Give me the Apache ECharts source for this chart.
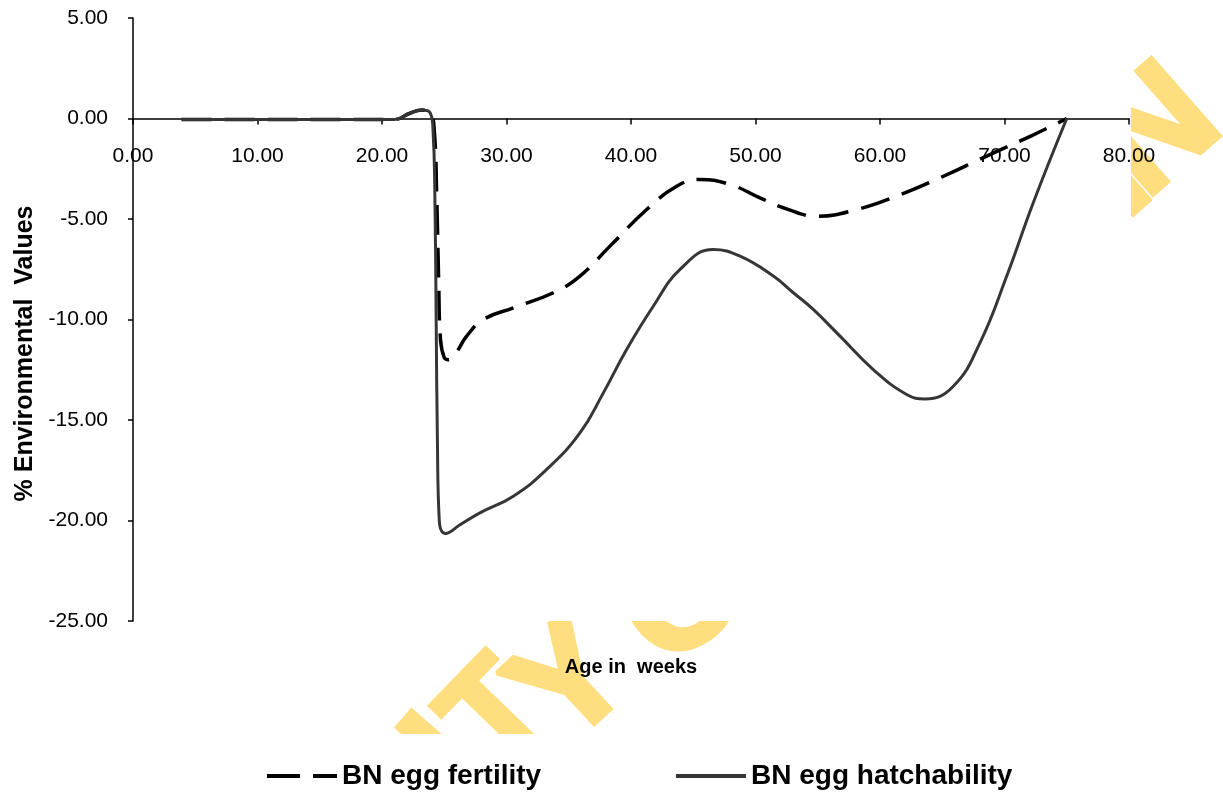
<!DOCTYPE html>
<html>
<head>
<meta charset="utf-8">
<script src="https://cdn.jsdelivr.net/npm/echarts@6/dist/echarts.min.js"></script>
<style>
  html, body { margin: 0; padding: 0; background: #ffffff; }
  #chart { width: 1223px; height: 792px; }
</style>
</head>
<body>
<div id="chart"></div>
<script>
// Age (weeks) and % environmental values for BN egg fertility
const fertilityWeeks = [3.9, 10, 16, 21.0, 22.2, 23.2, 23.9, 24.2, 24.4, 24.55, 24.7, 25.0, 25.33, 26.0, 26.8, 28.14, 30.55, 33.76, 35.9, 38.31, 41.26, 43.67, 45.54, 47.95, 50.36, 52.23, 54.91, 58.13, 61.34, 64.82, 68.57, 72.2, 75.0];
const fertilityValues = [-0.05, -0.05, -0.05, -0.05, 0.25, 0.42, 0.25, -0.6, -4.0, -8.0, -11.0, -11.9, -12.0, -11.6, -10.83, -10.0, -9.42, -8.67, -7.84, -6.35, -4.53, -3.37, -3.03, -3.28, -3.95, -4.44, -4.86, -4.53, -3.86, -2.95, -1.87, -0.85, 0.0];

// Age (weeks) and % environmental values for BN egg hatchability
const hatchWeeks = [3.9, 10, 16, 21.0, 22.2, 23.2, 23.85, 24.1, 24.25, 24.35, 24.45, 24.6, 25.1, 26.3, 27.87, 30.55, 33.23, 35.9, 37.78, 39.65, 41.79, 43.94, 46.6, 48.76, 51.43, 53.04, 54.64, 56.79, 59.46, 62.14, 63.61, 65.89, 68.03, 70.18, 72.31, 75.0];
const hatchValues = [-0.05, -0.05, -0.05, -0.05, 0.25, 0.42, 0.3, -0.6, -4.0, -10.0, -16.0, -20.0, -20.65, -20.2, -19.62, -18.79, -17.46, -15.64, -13.65, -11.49, -9.34, -7.51, -6.52, -6.85, -7.84, -8.67, -9.5, -10.83, -12.49, -13.73, -13.95, -13.32, -11.16, -7.84, -4.19, 0.0];

const seriesNames = ['BN egg fertility', 'BN egg hatchability'];
const xTicks = { min: 0, max: 80, step: 10 };
const yTicks = { min: -25, max: 5, step: 5 };

const pairs = (xs, ys) => xs.map((x, i) => [x, ys[i]]);

// plot rectangle
const gridBox = { left: 133, right: 94, top: 18, bottom: 171 };
const plotHeight = 792 - gridBox.top - gridBox.bottom;
// the x axis runs along the zero line: shift it up from the bottom edge
const xAxisOffset = -plotHeight * (0 - yTicks.min) / (yTicks.max - yTicks.min);

const chart = echarts.init(document.getElementById('chart'), null, { renderer: 'canvas' });

const baseFont = '"Liberation Sans", Arial, sans-serif';
const wmColor = '#FFDE80';
function wmLetter(ch, x, y, rot, size) {
  return {
    type: 'text', x: x, y: y, rotation: rot, z: 0, silent: true,
    style: {
      text: ch, font: 'bold ' + size + 'px "Liberation Sans", Arial, sans-serif',
      fill: wmColor, stroke: wmColor,
      lineWidth: 5, lineJoin: 'round', align: 'center', verticalAlign: 'middle'
    }
  };
}

const legendText = { fontSize: 28, fontWeight: 'bold', color: '#000', fontFamily: baseFont };

const option = {
  backgroundColor: '#ffffff',
  animation: false,
  graphic: {
    elements: [
      wmLetter('I', 451, 760, 0.85, 150),
      wmLetter('T', 498, 716, 0.8, 135),
      wmLetter('Y', 574, 686, 0.75, 150),
      wmLetter('O', 685, 603, 0.6, 150),
      wmLetter('I', 1114, 176, 0.72, 150),
      wmLetter('N', 1159, 134, 0.72, 150),
      { type: 'rect', z: 1, silent: true, shape: { x: 0, y: 0, width: 1131, height: 621 }, style: { fill: '#ffffff' } },
      { type: 'rect', z: 1, silent: true, shape: { x: 0, y: 734, width: 1223, height: 58 }, style: { fill: '#ffffff' } }
    ]
  },
  grid: Object.assign({ containLabel: false, outerBoundsMode: 'none' }, gridBox),
  legend: [
    {
      z: 8, left: 262, top: 757,
      itemWidth: 70, itemHeight: 4, itemGap: 0,
      icon: 'path://M0,0H33V4H0Z M46,0H70V4H46Z',
      data: [seriesNames[0]],
      textStyle: legendText
    },
    {
      z: 8, left: 671, top: 757,
      itemWidth: 70, itemHeight: 4, itemGap: 0,
      icon: 'path://M0,0H70V4H0Z',
      data: [seriesNames[1]],
      textStyle: legendText
    }
  ],
  xAxis: {
    type: 'value', z: 5,
    min: xTicks.min, max: xTicks.max, interval: xTicks.step,
    offset: xAxisOffset,
    name: 'Age in  weeks', nameLocation: 'middle', nameGap: 539,
    nameTextStyle: { fontSize: 20, fontWeight: 'bold', color: '#000', fontFamily: baseFont },
    axisLine: { show: true, onZero: false, lineStyle: { color: '#000', width: 1.5 } },
    axisTick: { show: true, length: 6, lineStyle: { color: '#000', width: 1.5 } },
    axisLabel: {
      margin: 27, fontSize: 21, color: '#000', fontFamily: baseFont,
      formatter: v => v.toFixed(2)
    },
    splitLine: { show: false }
  },
  yAxis: {
    type: 'value', z: 5,
    min: yTicks.min, max: yTicks.max, interval: yTicks.step,
    name: '% Environmental  Values', nameLocation: 'middle', nameGap: 93, nameRotate: 90,
    nameTextStyle: { fontSize: 25, fontWeight: 'bold', color: '#000', fontFamily: baseFont, padding: [0, 68, 0, 0] },
    axisLine: { show: true, onZero: false, lineStyle: { color: '#000', width: 1.5 } },
    axisTick: { show: true, length: 5, lineStyle: { color: '#000', width: 1.5 } },
    axisLabel: {
      margin: 25, fontSize: 21, color: '#000', fontFamily: baseFont,
      formatter: v => v.toFixed(2)
    },
    splitLine: { show: false }
  },
  series: [
    {
      name: seriesNames[0], type: 'line', z: 6,
      data: pairs(fertilityWeeks, fertilityValues),
      symbol: 'none', showSymbol: false, smooth: 0.45,
      lineStyle: { color: '#000000', width: 3.5, type: [30, 13] },
      itemStyle: { color: '#000000' }
    },
    {
      name: seriesNames[1], type: 'line', z: 6,
      data: pairs(hatchWeeks, hatchValues),
      symbol: 'none', showSymbol: false, smooth: 0.45,
      lineStyle: { color: '#363636', width: 3 },
      itemStyle: { color: '#363636' }
    }
  ]
};

chart.setOption(option);
</script>
</body>
</html>
